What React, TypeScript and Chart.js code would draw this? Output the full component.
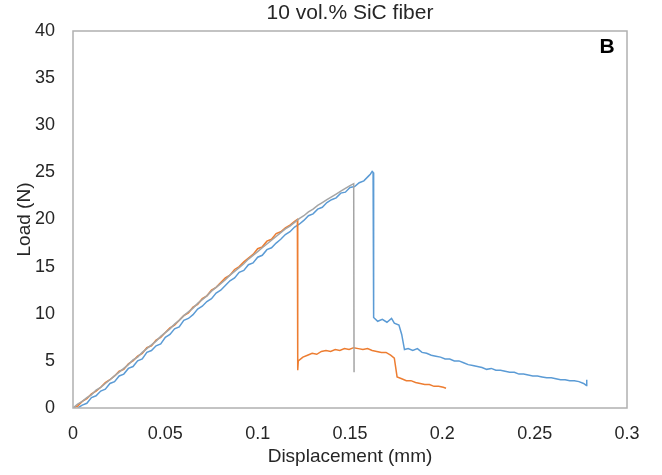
import React, { useEffect, useRef } from "react";
import { Chart, registerables } from "chart.js";

Chart.register(...registerables);

const chartTitle = "10 vol.% SiC fiber";
const panelLabel = "B";
const xAxisTitle = "Displacement (mm)";
const yAxisTitle = "Load (N)";
const xTickLabels = ["0", "0.05", "0.1", "0.15", "0.2", "0.25", "0.3"];
const yTickLabels = ["0", "5", "10", "15", "20", "25", "30", "35", "40"];

const blueX = [
  0.0025, 0.005, 0.0075, 0.01, 0.0125, 0.015, 0.0175, 0.02, 0.0225, 0.025, 0.0275, 0.03, 0.0325, 0.035, 0.0375,
  0.04, 0.0425, 0.045, 0.0475, 0.05, 0.0525, 0.055, 0.0575, 0.06, 0.0625, 0.065, 0.0675, 0.07, 0.0725, 0.075,
  0.0775, 0.08, 0.0825, 0.085, 0.0875, 0.09, 0.0925, 0.095, 0.0975, 0.1, 0.1025, 0.105, 0.1075, 0.11, 0.1125,
  0.115, 0.1175, 0.12, 0.1225, 0.125, 0.1275, 0.13, 0.1325, 0.135, 0.1375, 0.14, 0.1425, 0.145, 0.1475, 0.15,
  0.1525, 0.155, 0.1575, 0.16, 0.161, 0.162, 0.1625, 0.1628, 0.165, 0.1675, 0.17, 0.1725, 0.174, 0.1765, 0.178,
  0.1795, 0.1815, 0.184, 0.1865, 0.189, 0.1915, 0.194, 0.1965, 0.199, 0.2015, 0.204, 0.2065, 0.209, 0.2115,
  0.214, 0.2165, 0.219, 0.2215, 0.224, 0.2265, 0.229, 0.2315, 0.234, 0.2365, 0.239, 0.2415, 0.244, 0.2465,
  0.249, 0.2515, 0.254, 0.2565, 0.259, 0.2615, 0.264, 0.2665, 0.269, 0.2715, 0.274, 0.2765, 0.278, 0.2782,
];
const blueY = [
  0.0, 0.3, 0.5, 1.1, 1.3, 1.8, 2.0, 2.6, 2.8, 3.4, 3.6, 4.2, 4.4, 5.0, 5.2,
  5.9, 6.1, 6.6, 6.8, 7.5, 7.8, 8.4, 8.6, 9.3, 9.5, 9.9, 10.5, 10.8, 11.3, 11.6,
  12.2, 12.5, 13.0, 13.5, 13.8, 14.4, 14.6, 15.2, 15.4, 16.0, 16.2, 16.8, 17.0, 17.5, 17.9,
  18.4, 18.7, 19.2, 19.5, 19.9, 20.4, 20.6, 21.1, 21.3, 21.8, 22.1, 22.3, 22.8, 22.9, 23.4,
  23.5, 23.9, 24.1, 24.6, 24.8, 25.1, 25.0, 9.6, 9.2, 9.4, 9.1, 9.5, 9.0, 8.8, 7.8,
  6.2, 6.3, 6.1, 6.3, 5.9, 5.8, 5.6, 5.5, 5.4, 5.2, 5.2, 5.0, 5.0, 4.8,
  4.6, 4.5, 4.4, 4.3, 4.1, 4.2, 4.0, 4.0, 3.9, 3.8, 3.8, 3.6, 3.6, 3.5,
  3.4, 3.4, 3.3, 3.2, 3.2, 3.1, 3.0, 3.0, 2.9, 2.9, 2.8, 2.6, 2.4, 3.0,
];

const orangeX = [
  0, 0.0025, 0.005, 0.0075, 0.01, 0.0125, 0.015, 0.0175, 0.02, 0.0225, 0.025, 0.0275, 0.03, 0.0325, 0.035,
  0.0375, 0.04, 0.0425, 0.045, 0.0475, 0.05, 0.0525, 0.055, 0.0575, 0.06, 0.0625, 0.065, 0.0675, 0.07, 0.0725,
  0.075, 0.0775, 0.08, 0.0825, 0.085, 0.0875, 0.09, 0.0925, 0.095, 0.0975, 0.1, 0.1025, 0.105, 0.1075, 0.11,
  0.1125, 0.115, 0.1175, 0.12, 0.1215, 0.1217, 0.122, 0.1245, 0.127, 0.1295, 0.132, 0.1345, 0.137, 0.1395,
  0.142, 0.1445, 0.147, 0.1495, 0.152, 0.1545, 0.157, 0.1595, 0.162, 0.1645, 0.167, 0.1695, 0.172, 0.174,
  0.1755, 0.178, 0.1805, 0.183, 0.1855, 0.188, 0.1905, 0.193, 0.1955, 0.198, 0.2005, 0.202,
];
const orangeY = [
  0, 0.2, 0.7, 1.0, 1.5, 1.8, 2.2, 2.7, 3.0, 3.4, 3.9, 4.1, 4.7, 5.0, 5.5,
  5.8, 6.4, 6.6, 7.2, 7.5, 8.0, 8.5, 8.8, 9.3, 9.8, 10.1, 10.7, 11.0, 11.6, 11.9,
  12.5, 12.8, 13.3, 13.8, 14.1, 14.7, 15.0, 15.5, 15.9, 16.3, 16.9, 17.1, 17.7, 17.9, 18.5,
  18.7, 19.1, 19.4, 19.8, 20.0, 4.0, 5.0, 5.4, 5.6, 5.8, 5.7, 6.0, 6.1, 6.0,
  6.2, 6.1, 6.3, 6.2, 6.4, 6.3, 6.2, 6.3, 6.1, 6.0, 5.9, 5.9, 5.6, 5.3,
  3.3, 3.1, 2.9, 2.9, 2.7, 2.6, 2.5, 2.5, 2.3, 2.3, 2.2, 2.1,
];

const grayX = [
  0, 0.0025, 0.005, 0.0075, 0.01, 0.0125, 0.015, 0.0175, 0.02, 0.0225, 0.025, 0.0275, 0.03, 0.0325, 0.035,
  0.0375, 0.04, 0.0425, 0.045, 0.0475, 0.05, 0.0525, 0.055, 0.0575, 0.06, 0.0625, 0.065, 0.0675, 0.07, 0.0725,
  0.075, 0.0775, 0.08, 0.0825, 0.085, 0.0875, 0.09, 0.0925, 0.095, 0.0975, 0.1, 0.1025, 0.105, 0.1075, 0.11,
  0.1125, 0.115, 0.1175, 0.12, 0.1225, 0.125, 0.1275, 0.13, 0.1325, 0.135, 0.1375, 0.14, 0.1425, 0.145,
  0.1475, 0.15, 0.152, 0.1522,
];
const grayY = [
  0, 0.4, 0.7, 1.1, 1.4, 1.9, 2.2, 2.6, 3.0, 3.4, 3.8, 4.2, 4.6, 5.1, 5.4,
  5.9, 6.3, 6.7, 7.1, 7.6, 8.0, 8.4, 8.9, 9.3, 9.8, 10.2, 10.6, 11.1, 11.5, 11.9,
  12.4, 12.8, 13.2, 13.6, 14.1, 14.5, 14.9, 15.3, 15.8, 16.2, 16.6, 17.0, 17.4, 17.8, 18.2,
  18.6, 19.0, 19.3, 19.7, 20.1, 20.4, 20.8, 21.1, 21.5, 21.8, 22.1, 22.4, 22.7, 23.0,
  23.3, 23.6, 23.8, 3.8,
];

const FONT = "'Liberation Sans', Arial, sans-serif";
const TEXT = "#262626";

const toPoints = (xs: number[], ys: number[]) => xs.map((x, i) => ({ x, y: ys[i] }));

const framePlugin = {
  id: "frameAndLabel",
  afterDraw(chart: any) {
    const { ctx, chartArea } = chart;
    ctx.save();
    ctx.strokeStyle = "#B0B0B0";
    ctx.lineWidth = 1.5;
    ctx.strokeRect(chartArea.left, chartArea.top, chartArea.right - chartArea.left, chartArea.bottom - chartArea.top);
    ctx.textAlign = "center";
    ctx.textBaseline = "middle";
    ctx.fillStyle = TEXT;
    ctx.font = `21px ${FONT}`;
    ctx.fillText(chartTitle, (chartArea.left + chartArea.right) / 2, 13);
    ctx.fillStyle = "#000";
    ctx.font = `bold 21px ${FONT}`;
    ctx.fillText(panelLabel, chartArea.right - 20, chartArea.top + 16);
    ctx.restore();
  },
};

export default function App() {
  const ref = useRef<HTMLCanvasElement>(null);
  useEffect(() => {
    if (!ref.current) return;
    const chart = new Chart(ref.current, {
      type: "line",
      data: {
        datasets: [
          {
            label: "Sample 3",
            data: toPoints(grayX, grayY),
            borderColor: "#A5A5A5",
            borderWidth: 1.5,
            pointRadius: 0,
            fill: false,
            tension: 0,
          },
          {
            label: "Sample 2",
            data: toPoints(orangeX, orangeY),
            borderColor: "#ED7D31",
            borderWidth: 1.5,
            pointRadius: 0,
            fill: false,
            tension: 0,
          },
          {
            label: "Sample 1",
            data: toPoints(blueX, blueY),
            borderColor: "#5B9BD5",
            borderWidth: 1.5,
            pointRadius: 0,
            fill: false,
            tension: 0,
          },
        ],
      },
      options: {
        responsive: false,
        animation: false,
        layout: { padding: { left: 0, right: 35, top: 31, bottom: 0 } },
        plugins: {
          legend: { display: false },
          tooltip: { enabled: false },
          title: { display: false },
        },
        scales: {
          x: {
            type: "linear",
            min: 0,
            max: 0.3,
            grid: { display: false, drawTicks: false },
            border: { display: false },
            ticks: {
              stepSize: 0.05,
              color: TEXT,
              font: { family: FONT, size: 18 },
              padding: 15,
              maxRotation: 0,
              callback: (v: any) => {
                const i = Math.round(Number(v) / 0.05);
                return xTickLabels[i] ?? "";
              },
            },
            title: {
              display: true,
              text: xAxisTitle,
              color: TEXT,
              font: { family: FONT, size: 19 },
              padding: { top: 0, bottom: 6.6 },
            },
            afterFit: (s: any) => {
              s.height = 67;
            },
          },
          y: {
            type: "linear",
            min: 0,
            max: 40,
            grid: { display: false, drawTicks: false },
            border: { display: false },
            ticks: {
              stepSize: 5,
              color: TEXT,
              font: { family: FONT, size: 18 },
              padding: 18,
              callback: (v: any) => {
                const i = Math.round(Number(v) / 5);
                return yTickLabels[i] ?? "";
              },
            },
            title: {
              display: true,
              text: yAxisTitle,
              color: TEXT,
              font: { family: FONT, size: 19 },
              padding: { top: 13.6, bottom: 0 },
            },
            afterFit: (s: any) => {
              s.width = 73;
            },
          },
        },
      },
      plugins: [framePlugin],
    });
    return () => chart.destroy();
  }, []);
  return (
    <div style={{ position: "fixed", left: 0, top: 0, width: 662, height: 475, background: "#fff" }}>
      <canvas ref={ref} width={662} height={475} style={{ display: "block" }} />
    </div>
  );
}
